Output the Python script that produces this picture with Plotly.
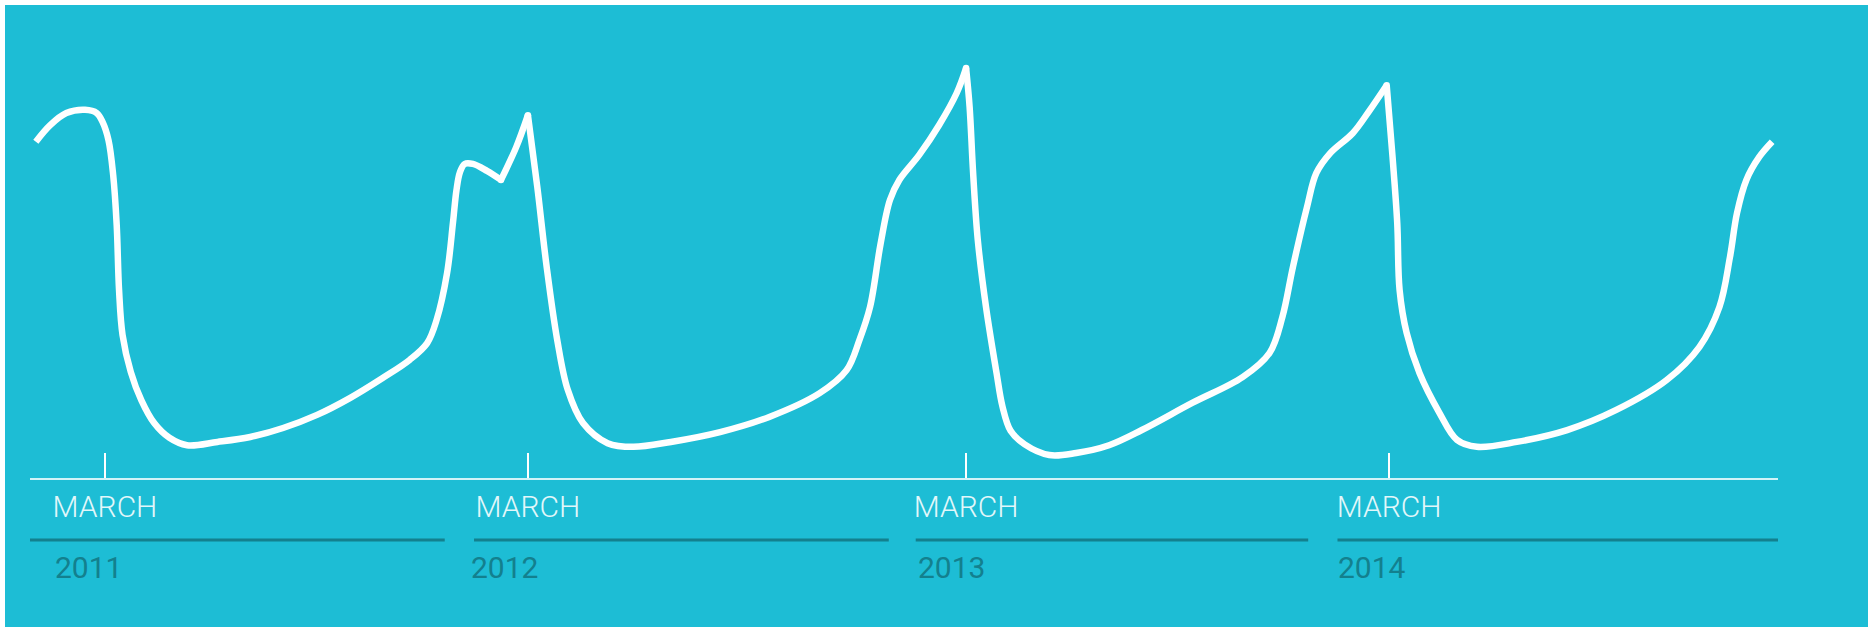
import plotly.graph_objects as go

# ---- data (search-interest index, highest peak = 100) ----
dates = [
    "2011-01-01", "2011-01-13", "2011-01-27", "2011-02-12", "2011-02-22", "2011-02-27",
    "2011-03-04", "2011-03-08", "2011-03-11", "2011-03-13", "2011-03-16", "2011-03-23",
    "2011-04-01", "2011-04-12", "2011-04-25", "2011-05-10", "2011-06-05",
    "2011-07-03", "2011-07-31", "2011-08-29", "2011-09-26", "2011-10-24", "2011-11-16",
    "2011-12-01", "2011-12-09", "2011-12-18", "2011-12-23", "2011-12-26", "2011-12-29",
    "2012-01-02", "2012-01-09", "2012-01-21", "2012-02-02",
    "2012-02-15", "2012-02-25",
    "2012-03-04", "2012-03-12", "2012-03-21", "2012-03-30", "2012-04-12", "2012-05-03",
    "2012-05-25", "2012-06-26", "2012-08-07", "2012-09-18", "2012-10-31", "2012-11-23",
    "2012-12-04", "2012-12-13", "2012-12-22", "2012-12-30", "2013-01-07", "2013-01-24",
    "2013-02-10", "2013-02-25", "2013-03-05",
    "2013-03-08", "2013-03-11", "2013-03-15", "2013-03-22", "2013-03-31", "2013-04-05",
    "2013-04-12", "2013-04-24", "2013-05-15", "2013-06-07", "2013-07-05", "2013-08-02",
    "2013-09-14", "2013-10-27", "2013-11-19", "2013-11-30", "2013-12-09", "2013-12-21",
    "2013-12-29", "2014-01-10", "2014-01-29", "2014-02-12", "2014-02-27",
    "2014-03-04", "2014-03-08", "2014-03-10", "2014-03-16", "2014-03-27", "2014-04-13",
    "2014-04-28", "2014-05-15", "2014-06-18", "2014-07-31", "2014-09-11", "2014-10-24",
    "2014-11-21", "2014-12-08", "2014-12-17", "2014-12-23", "2014-12-31", "2015-01-11",
    "2015-01-22",
]
values = [
    82, 86, 89, 89.8, 89, 86.8,
    82.4, 73.9, 61.7, 45.9, 34.9, 25.9,
    19, 13.4, 9.8, 8, 8.8,
    10, 12.2, 15.4, 19.5, 24.4, 28.8,
    32.9, 38.5, 50, 62.2, 70.2, 74.6,
    76.6, 76.6, 74.9, 72.7,
    80.7, 88.5,
    71, 51.5, 33.7, 21.5, 13.4, 8.5,
    7.6, 8.8, 11.2, 14.9, 20.7, 26.3,
    33.7, 41.7, 57.1, 67.8, 72.7, 78.8,
    86.1, 93.9, 100,
    90.5, 74.4, 58, 41.7, 25.6, 17.5,
    11.5, 8.2, 5.6, 6.1, 8, 11.7,
    18.3, 24.6, 30.5, 39.3, 51.5, 66.1,
    74.4, 79.3, 84.1, 89.5, 95.8,
    78.3, 62.2, 45.9, 35.4, 25.6, 15.9,
    9.3, 7.6, 8.8, 11.7, 16.6, 23.9,
    32, 41.7, 53.9, 64.6, 72.7, 78.3,
    82,
]
# sharp corners of the curve (the line is drawn as smooth pieces between them)
cusps = ["2012-02-02", "2012-02-25", "2013-03-05", "2014-02-27"]

march_ticks = ["2011-03-01", "2012-02-25", "2013-03-05", "2014-03-01"]
march_labels = ["MARCH", "MARCH", "MARCH", "MARCH"]

years = ["2011", "2012", "2013", "2014"]
year_label_x = ["2011-01-16", "2012-01-06", "2013-01-21", "2014-01-15"]
year_line_start = ["2010-12-27", "2012-01-10", "2013-01-21", "2014-01-16"]
year_line_end = ["2011-12-16", "2012-12-29", "2013-12-22", "2015-01-27"]

BG = "#1DBDD5"
DARK = "#13808E"
LIGHT = "#E2F7FA"
LINE_W = 6.5

W, H = 1868, 627
ML, MR, MT, MB = 30, 90, 0, 149
plot_h = H - MT - MB
plot_w = W - ML - MR

fig = go.Figure()

# split into smooth pieces at the cusps (pieces share the cusp point)
cut_idx = [0] + [dates.index(c) for c in cusps] + [len(dates) - 1]
for a, b in zip(cut_idx[:-1], cut_idx[1:]):
    fig.add_trace(go.Scatter(
        x=dates[a:b + 1], y=values[a:b + 1], mode="lines",
        line=dict(color="white", width=LINE_W, shape="spline", smoothing=1),
        hoverinfo="skip", showlegend=False,
    ))
# round joins at the cusps
fig.add_trace(go.Scatter(
    x=cusps, y=[values[dates.index(c)] for c in cusps], mode="markers",
    marker=dict(color="white", size=LINE_W, line=dict(width=0)),
    hoverinfo="skip", showlegend=False,
))

shapes = [
    # blue panel
    dict(type="rect", xref="paper", yref="paper",
         x0=(5 - ML) / plot_w, x1=1.2, y0=-0.5, y1=(plot_h - 5) / plot_h,
         fillcolor=BG, line=dict(width=0), layer="below"),
]
year_line_y = (plot_h - (540 - MT)) / plot_h
for s, e in zip(year_line_start, year_line_end):
    shapes.append(dict(type="line", xref="x", yref="paper", x0=s, x1=e,
                       y0=year_line_y, y1=year_line_y,
                       line=dict(color=DARK, width=3)))

annotations = []
year_y = (plot_h - (567 - MT)) / plot_h
for t, xv in zip(years, year_label_x):
    annotations.append(dict(text=t, x=xv, xref="x", y=year_y, yref="paper",
                            xanchor="left", yanchor="middle", showarrow=False,
                            font=dict(family="Roboto", size=30, color=DARK)))

fig.update_layout(
    width=W, height=H,
    margin=dict(l=ML, r=MR, t=MT, b=MB),
    paper_bgcolor="white",
    plot_bgcolor="rgba(0,0,0,0)",
    shapes=shapes,
    annotations=annotations,
    xaxis=dict(
        type="date", range=["2010-12-27", "2015-01-27"],
        showgrid=False, zeroline=False,
        showline=True, linecolor="rgba(230,250,252,0.9)", linewidth=2,
        ticks="inside", ticklen=25, tickwidth=2, tickcolor="white",
        tickvals=march_ticks, ticktext=march_labels,
        tickfont=dict(family="Roboto", size=30, color=LIGHT, weight=300),
        ticklabelstandoff=1,
        fixedrange=True,
    ),
    yaxis=dict(range=[0, 478 / 4.1], visible=False, fixedrange=True),
    showlegend=False,
)

fig.write_html(
    "out.html",
    config={"displayModeBar": False},
    post_script="document.body.style.margin='0';document.body.style.overflow='hidden';",
)
